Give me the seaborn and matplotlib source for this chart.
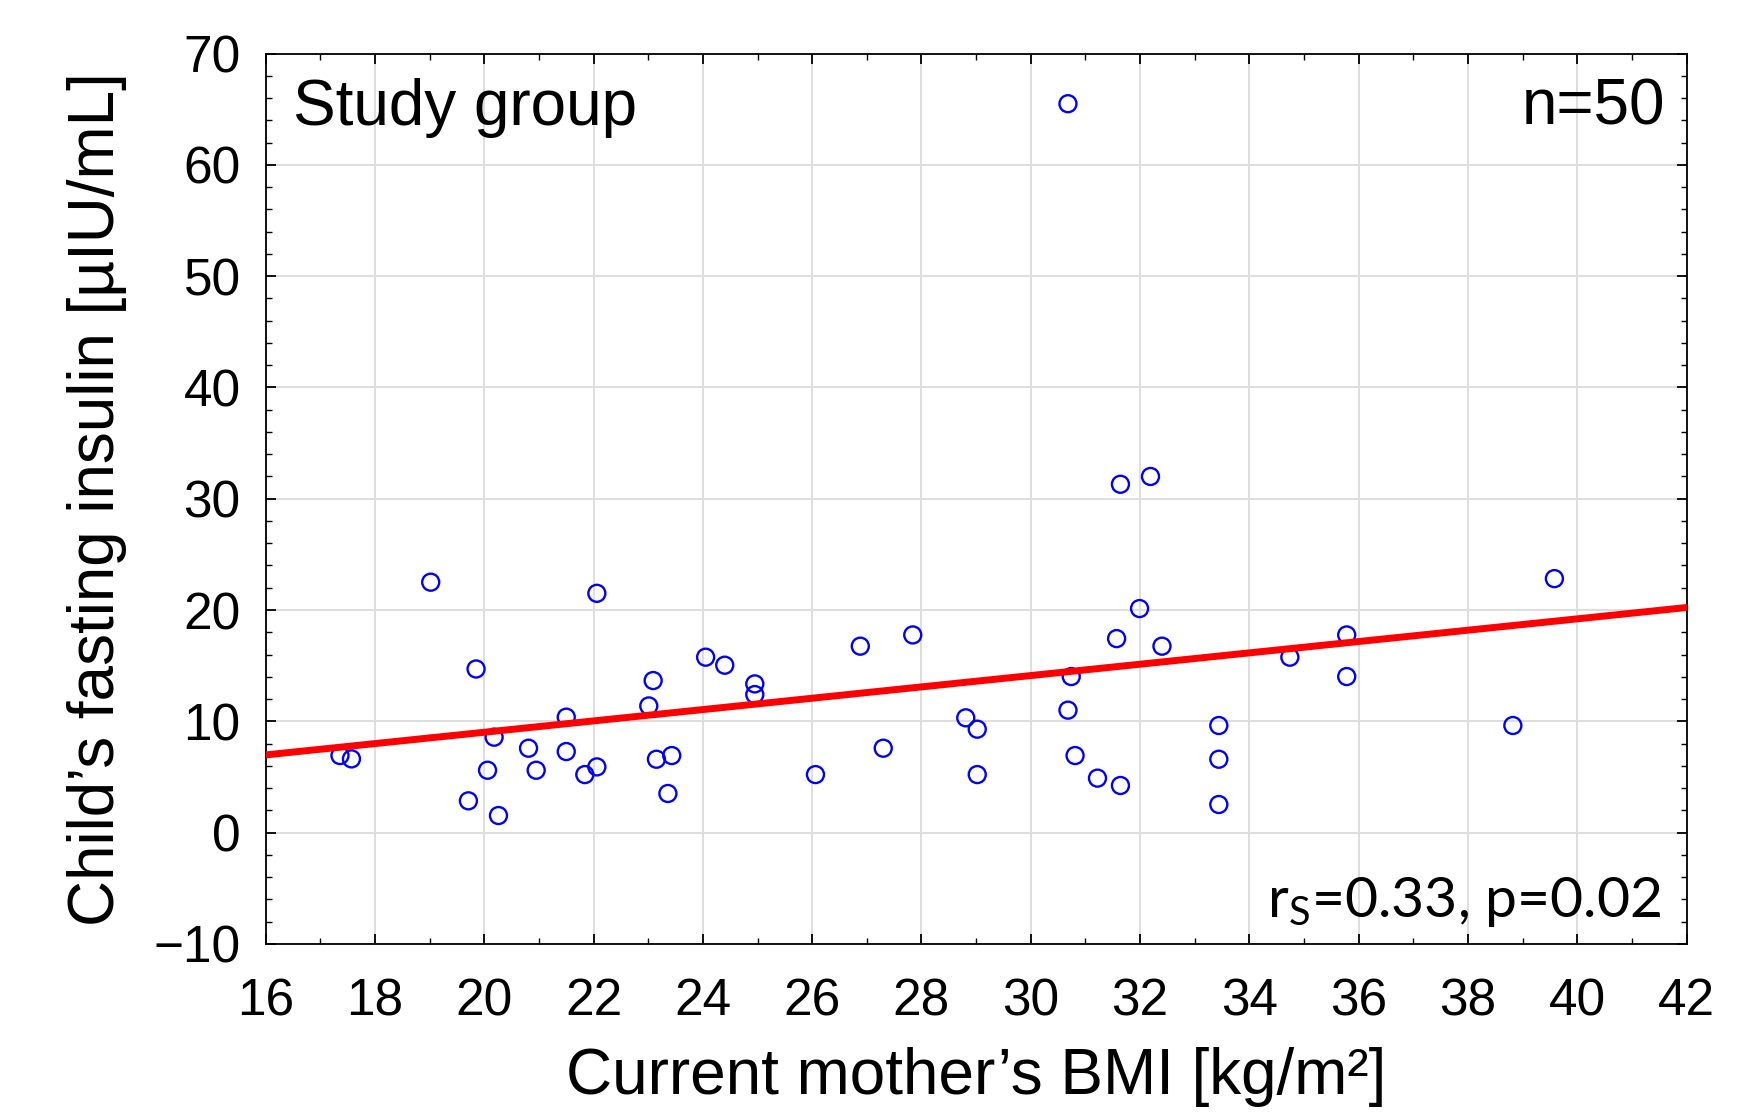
import numpy as np
import pandas as pd
import matplotlib
matplotlib.use("Agg")
import matplotlib.pyplot as plt
import seaborn as sns
from matplotlib.ticker import MultipleLocator

# ---- data ----
bmi = [19.02, 22.06, 19.85, 24.05, 24.40, 23.09, 23.01, 21.50, 20.18, 20.81,
       21.50, 17.36, 17.57, 23.43, 23.15, 22.06, 21.84, 20.06, 20.95, 23.36,
       19.71, 20.26,
       24.95, 24.95, 26.88, 27.84, 26.06, 27.30, 28.81, 29.02, 29.02, 30.74,
       30.68, 30.81, 31.22, 31.64, 31.57, 31.99, 32.40,
       33.44, 33.44, 33.44, 34.74, 35.78, 35.78, 38.82, 39.58,
       30.68, 31.64, 32.19]
insulin = [22.5, 21.5, 14.7, 15.76, 15.04, 13.66, 11.38, 10.37, 8.57, 7.58,
           7.28, 6.92, 6.62, 6.92, 6.59, 5.90, 5.21, 5.60, 5.60, 3.51,
           2.85, 1.53,
           13.36, 12.40, 16.75, 17.76, 5.21, 7.58, 10.31, 9.29, 5.21, 14.02,
           11.0, 6.92, 4.89, 4.23, 17.43, 20.13, 16.75,
           9.62, 6.59, 2.52, 15.76, 17.76, 14.02, 9.62, 22.82,
           65.5, 31.3, 32.0]

x_ticks = list(range(16, 43, 2))
y_ticks = list(range(-10, 71, 10))

label_group = "Study group"
label_n = "n=50"
label_stats = r"r$_\mathrm{S}$=0.33, p=0.02"
xlabel = "Current mother\u2019s BMI [kg/m\u00b2]"
ylabel = "Child\u2019s fasting insulin [\u00b5IU/mL]"

df = pd.DataFrame({"bmi": bmi, "insulin": insulin})

sns.set_style("white")
plt.rcParams["font.family"] = ["Liberation Sans", "DejaVu Sans"]
plt.rcParams["mathtext.fontset"] = "custom"
plt.rcParams["mathtext.rm"] = "Lato"
plt.rcParams["mathtext.it"] = "Lato:italic"
for k in ["text.color", "axes.labelcolor", "xtick.color", "ytick.color",
          "xtick.labelcolor", "ytick.labelcolor"]:
    plt.rcParams[k] = "black"

fig = plt.figure(figsize=(17.5, 11.13), dpi=100)
ax = fig.add_axes([0.1518, 0.152, 0.8120, 0.7998])

ax.set_xlim(16, 42)
ax.set_ylim(-10, 70)

sns.scatterplot(data=df, x="bmi", y="insulin", marker="o", s=150,
                fc="none", ec="#0000ff", linewidth=1.7, ax=ax, zorder=3)
sns.regplot(data=df, x="bmi", y="insulin", scatter=False, ci=None,
            truncate=False, line_kws=dict(color="#ff0000", lw=5.0, zorder=4),
            ax=ax)

ax.set_xlim(16, 42)
ax.set_ylim(-10, 70)
ax.set_xticks(x_ticks)
ax.set_yticks(y_ticks)
ax.xaxis.set_minor_locator(MultipleLocator(1))
ax.yaxis.set_minor_locator(MultipleLocator(2))
ax.tick_params(which="both", direction="in", top=True, right=True,
               bottom=True, left=True, color="black")
ax.tick_params(which="major", length=7, width=1.3, labelsize=37)
ax.tick_params(axis="y", which="major", pad=18)
ax.tick_params(axis="x", which="major", pad=24)
ax.tick_params(which="minor", length=4, width=1.0)
ax.grid(True, which="major", color="#dedede", lw=1.4)
ax.set_axisbelow(True)
for sp in ax.spines.values():
    sp.set_color("black")
    sp.set_linewidth(1.3)

ax.set_xlabel(xlabel, fontsize=46, labelpad=15)
ax.set_ylabel(ylabel, fontsize=46, labelpad=19)

ax.text(0.0195, 0.920, label_group, transform=ax.transAxes, fontsize=46,
        ha="left", va="baseline")
ax.text(0.9848, 0.920, label_n, transform=ax.transAxes, fontsize=46,
        ha="right", va="baseline")
ax.text(0.9817, 0.030, label_stats, transform=ax.transAxes, fontsize=41,
        ha="right", va="baseline", family=["Lato", "DejaVu Sans"])

fig.savefig("out.png", dpi=100)
